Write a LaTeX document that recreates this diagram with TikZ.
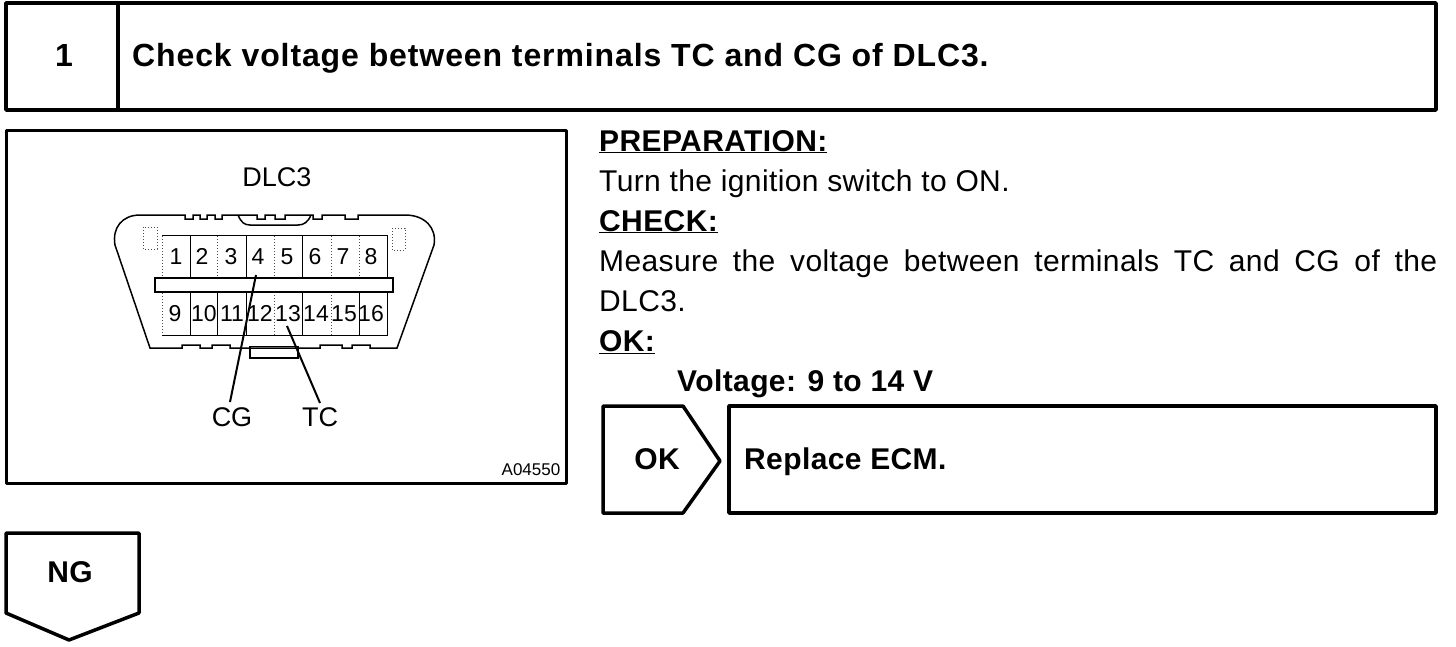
\documentclass[tikz,border=0pt]{standalone}
\usepackage{fontspec}
\setmainfont{Liberation Sans}
\newfontfamily\titlefont{Liberation Sans}[LetterSpace=2.8]
\newfontfamily\bodyfont{Liberation Sans}[LetterSpace=1.3]
\usetikzlibrary{positioning}
\tikzset{
  box/.style={draw=black,line width=3.5pt,line join=round,fill=white},
  thin/.style={draw=black,line width=1.5pt},
  pinsolid/.style={draw=black,line width=1pt},
  pinline/.style={draw=black!70,line width=1pt,dotted},
  head/.style={inner sep=0pt,anchor=base west,font=\fontsize{32}{36}\titlefont\bfseries},
  body/.style={inner sep=0pt,anchor=base west,font=\fontsize{30}{34}\bodyfont},
  bodybf/.style={inner sep=0pt,anchor=base west,font=\fontsize{30}{34}\bodyfont\bfseries},
  pin/.style={inner sep=0pt,anchor=base,font=\fontsize{23}{28}\selectfont},
  lbl/.style={inner sep=0pt,font=\fontsize{27}{32}\selectfont},
}
\begin{document}
\begin{tikzpicture}[x=1pt,y=-1pt]
  \useasboundingbox (0,0) rectangle (1456,646);
  % title bar
  \draw[box] (6,3) rectangle (1436,110);
  \draw[box] (118,3) -- (118,110);
  \node[head] (num) at (55,66) {1};
  \node[head] (title) at (132,66) {Check voltage between terminals TC and CG of DLC3.};
  % connector figure
  \draw[box,line width=3pt] (6,130) rectangle (566,483);
  \node[lbl] (dlc) at (277,177) {DLC3};
  \draw[thin] (150,348) -- (115,245) .. controls (112,228) and (122,215) .. (140,215)
    -- (185,215) -- (185,219) -- (193,219) -- (193,215) -- (200,215) -- (200,219) -- (207,219)
    -- (207,215) -- (215,215) -- (215,219) -- (222,219) -- (222,215) -- (257,215)
    -- (257,219) -- (265,219) -- (265,215) -- (275,215) -- (275,219) -- (285,219) -- (285,215)
    -- (313,215) -- (313,219) -- (322,219) -- (322,215) -- (345,215) -- (345,219) -- (358,219) -- (358,215)
    -- (405,215) .. controls (425,215) and (437,228) .. (434,245) -- (397,348)
    -- (370,348) -- (370,345) -- (352,345) -- (352,348) -- (342,348) -- (342,345) -- (320,345) -- (320,348)
    -- (230,348) -- (230,345) -- (212,345) -- (212,348) -- (200,348) -- (200,345) -- (182,345) -- (182,348)
    -- cycle;
  \draw[thin] (238,215) .. controls (241,222) and (244,225) .. (250,225)
    -- (298,225) .. controls (304,225) and (308,222) .. (311,215);
  \draw[thin] (250,346) -- (250,358) -- (298,358) -- (298,346);
  \draw[pinsolid] (250,346) -- (298,346);
  % pin cavities
  \draw[pinline] (162,236) -- (162,335);
  \foreach \x in {217,274,331,359}{
    \draw[pinline] (\x,236) -- (\x,277);}
  \foreach \x in {274,331}{
    \draw[pinline] (\x,292) -- (\x,335);}
  \draw[pinsolid] (162,235) -- (387,235) -- (387,335) -- (162,335);
  \foreach \x in {190,246,302}{
    \draw[pinsolid] (\x,236) -- (\x,277);
    \draw[pinsolid] (\x,292) -- (\x,335);}
  \foreach \x in {217,359}{
    \draw[pinsolid] (\x,292) -- (\x,335);}
  \draw[pinline] (143,227) rectangle (157,249);
  \draw[pinline] (392,228) rectangle (405,250);
  \draw[thin,fill=white] (155,278) rectangle (393,292);
  \foreach \n/\x in {1/176,2/202,3/231,4/258,5/287,6/315,7/343,8/371}{
    \node[pin] (p\n) at (\x,264) {\n};}
  \foreach \n/\x in {9/175,10/204,11/232,12/260,13/288,14/316,15/344,16/371}{
    \node[pin] (p\n) at (\x,321) {\n};}
  \coordinate (cgend) at (230,402);
  \coordinate (tcend) at (320,403);
  \coordinate (cgtip) at (256,275);
  \coordinate (tctip) at (287,326);
  \draw[thin,line width=2pt] (cgtip) -- (cgend);
  \draw[thin,line width=2pt] (tctip) -- (tcend);
  \node[lbl] (cg) at (232,417) {CG};
  \node[lbl] (tc) at (320,417) {TC};
  \node[inner sep=0pt,font=\fontsize{17}{20}\selectfont] (fig) at (531,470) {A04550};
  % text block
  \node[bodybf] (prep) at (599,151) {\underline{PREPARATION:}};
  \node[body] (turn) at (599,191) {Turn the ignition switch to ON.};
  \node[bodybf] (chk) at (599,231) {\underline{CHECK:}};
  \node[body] (meas) at (599,271) {\makebox[838pt][s]{Measure the voltage between terminals TC and CG of the}};
  \node[body] (meas2) at (599,311) {DLC3.};
  \node[bodybf] (ok) at (599,351) {\underline{OK:}};
  \node[bodybf] (volt) at (677,391) {Voltage: 9 to 14 V};
  % result boxes
  \draw[box] (603,406) -- (683,406) -- (720,461) -- (683,513) -- (603,513) -- cycle;
  \node[bodybf,anchor=center] (oktag) at (657,459) {OK};
  \draw[box] (729,406) rectangle (1436,513);
  \node[bodybf] (ecm) at (744,469) {Replace ECM.};
  \draw[box] (6,533) -- (139,533) -- (139,613) -- (69,640) -- (6,613) -- cycle;
  \node[bodybf,anchor=center] (ngtag) at (70,572) {NG};
\end{tikzpicture}
\end{document}
